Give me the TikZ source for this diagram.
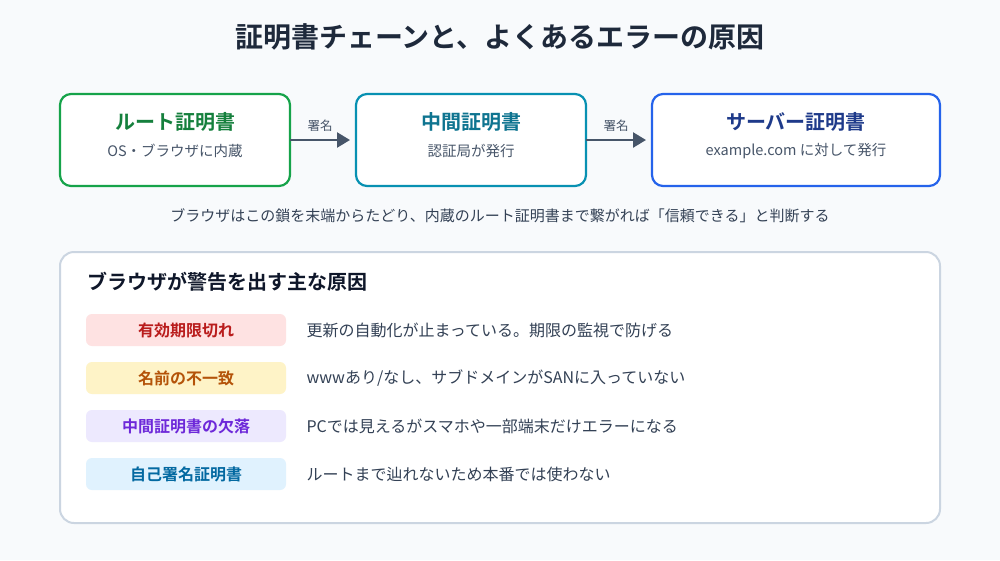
\documentclass[tikz,border=0pt]{standalone}
\usepackage{fontspec}
\setmainfont{Noto Sans CJK JP}[BoldFont={Noto Sans CJK JP Bold}]
\usetikzlibrary{arrows.meta}
\definecolor{bg}{HTML}{F8FAFC}
\definecolor{titlec}{HTML}{1E293B}
\definecolor{subc}{HTML}{475569}
\definecolor{capc}{HTML}{334155}
\definecolor{greenb}{HTML}{16A34A}
\definecolor{greent}{HTML}{15803D}
\definecolor{tealb}{HTML}{0891B2}
\definecolor{tealt}{HTML}{0E7490}
\definecolor{blueb}{HTML}{2563EB}
\definecolor{bluet}{HTML}{1E3A8A}
\definecolor{panelb}{HTML}{CBD5E1}
\definecolor{headc}{HTML}{0F172A}
\definecolor{p1f}{HTML}{FEE2E2}\definecolor{p1t}{HTML}{B91C1C}
\definecolor{p2f}{HTML}{FEF3C7}\definecolor{p2t}{HTML}{B45309}
\definecolor{p3f}{HTML}{EDE9FE}\definecolor{p3t}{HTML}{6D28D9}
\definecolor{p4f}{HTML}{E0F2FE}\definecolor{p4t}{HTML}{0369A1}
\tikzset{
  certbox/.style={draw=#1, line width=2.2pt, fill=white, rounded corners=11pt},
  ctitle/.style={font=\fontsize{20}{24}\selectfont\bfseries, text=#1, anchor=center},
  csub/.style={font=\fontsize{14.5}{18}\selectfont, text=subc, anchor=center},
  flow/.style={draw=subc, line width=2.5pt, -{Triangle[length=13pt,width=15pt]}},
  flowlbl/.style={font=\fontsize{12.5}{15}\selectfont, text=subc},
  pill/.style={fill=#1, rounded corners=6pt, draw=none},
  pilltext/.style={font=\fontsize{16}{19}\selectfont\bfseries, text=#1, anchor=center},
  desc/.style={font=\fontsize{16}{19}\selectfont, text=capc, anchor=west},
}
\begin{document}
\begin{tikzpicture}[x=1pt,y=-1pt]
\fill[bg] (0,0) rectangle (1000,560);
\useasboundingbox (0,0) rectangle (1000,560);
\node[font=\fontsize{28}{32}\selectfont\bfseries, text=titlec] (title) at (500,37) {証明書チェーンと、よくあるエラーの原因};
% cert boxes
\draw[certbox=greenb] (60,94) rectangle (290,186);
\coordinate (b1w) at (60,140); \coordinate (b1e) at (290,140);
\node[ctitle=greent] (t1) at (175,122) {ルート証明書};
\node[csub] (s1) at (175,151) {OS・ブラウザに内蔵};
\draw[certbox=tealb] (356,94) rectangle (586,186);
\coordinate (b2w) at (356,140); \coordinate (b2e) at (586,140);
\node[ctitle=tealt] (t2) at (471,122) {中間証明書};
\node[csub] (s2) at (471,151) {認証局が発行};
\draw[certbox=blueb] (652,94) rectangle (940,186);
\coordinate (b3w) at (652,140);
\node[ctitle=bluet] (t3) at (796,122) {サーバー証明書};
\node[csub] (s3) at (796,151) {example.com に対して発行};
\draw[flow] (b1e) -- (350,140) coordinate (a1);
\draw[flow] (b2e) -- (646,140) coordinate (a2);
\node[flowlbl] (l1) at (320,126) {署名};
\node[flowlbl] (l2) at (616,126) {署名};
\node[font=\fontsize{15}{19}\selectfont, text=capc] (cap) at (500,216) {ブラウザはこの鎖を末端からたどり、内蔵のルート証明書まで繋がれば「信頼できる」と判断する};
% panel
\draw[fill=white, draw=panelb, line width=2pt, rounded corners=14pt] (60,252) rectangle (940,523);
\node[font=\fontsize{20}{24}\selectfont\bfseries, text=headc, anchor=west] (ph) at (84,282) {ブラウザが警告を出す主な原因};
\fill[pill=p1f] (86,314) rectangle (286,346);
\node[pilltext=p1t] (q1) at (186,330) {有効期限切れ};
\node[desc] (d1) at (303,330) {更新の自動化が止まっている。期限の監視で防げる};
\fill[pill=p2f] (86,362) rectangle (286,394);
\node[pilltext=p2t] (q2) at (186,378) {名前の不一致};
\node[desc] (d2) at (303,378) {wwwあり/なし、サブドメインがSANに入っていない};
\fill[pill=p3f] (86,410) rectangle (286,442);
\node[pilltext=p3t] (q3) at (186,426) {中間証明書の欠落};
\node[desc] (d3) at (303,426) {PCでは見えるがスマホや一部端末だけエラーになる};
\fill[pill=p4f] (86,458) rectangle (286,490);
\node[pilltext=p4t] (q4) at (186,474) {自己署名証明書};
\node[desc] (d4) at (303,474) {ルートまで辿れないため本番では使わない};
\end{tikzpicture}
\end{document}
